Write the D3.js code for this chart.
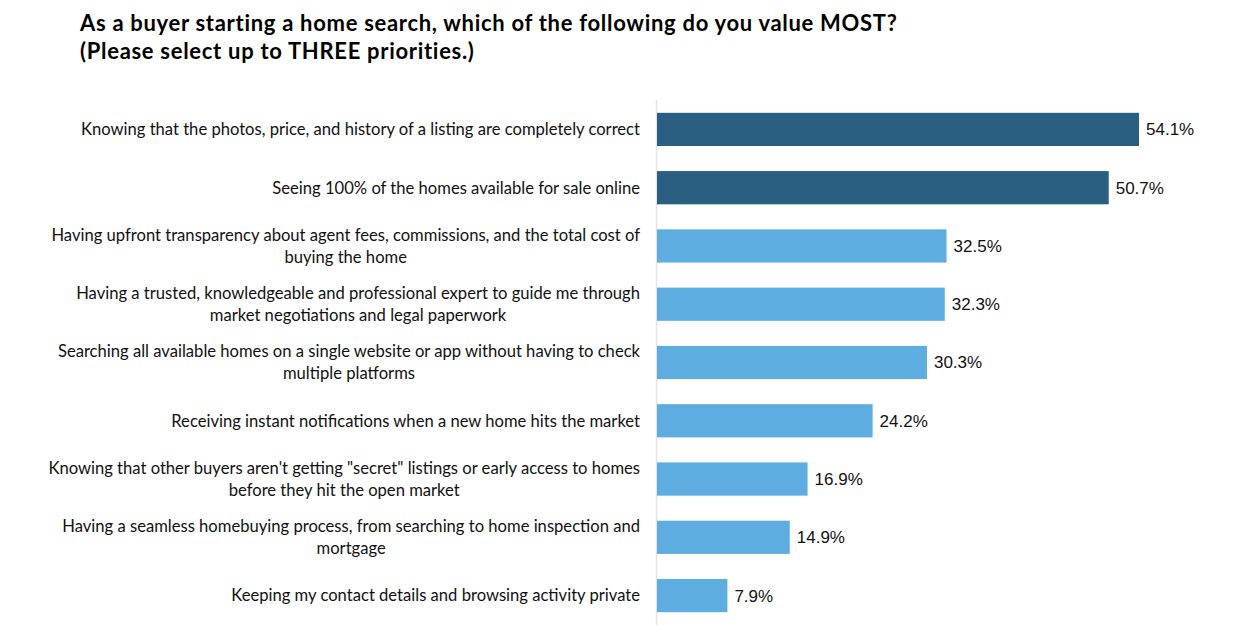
<!DOCTYPE html>
<html lang="en">
<head>
    <meta charset="UTF-8">
    <script src="https://d3js.org/d3.v7.min.js"></script>
    <title>Home search priorities</title>
    <style>
        body {
            margin: 0;
            background-color: #ffffff;
        }
        svg {
            display: block;
        }
        .title {
            font-family: Lato, "Liberation Sans", sans-serif;
            font-weight: bold;
            font-size: 22px;
            letter-spacing: 0.7px;
            fill: #000000;
        }
        .cat-label {
            font-family: Lato, "Liberation Sans", sans-serif;
            font-size: 16.6px;
            fill: #111111;
        }
        .value-label {
            font-family: "Liberation Sans", Arial, sans-serif;
            font-size: 17px;
            fill: #111111;
        }
    </style>
</head>
<body>

    <svg id="chart" width="1251" height="635"></svg>

    <script>
        // categories, each split into the lines shown in the picture
        const categories = [
            ["Knowing that the photos, price, and history of a listing are completely correct"],
            ["Seeing 100% of the homes available for sale online"],
            ["Having upfront transparency about agent fees, commissions, and the total cost of", "buying the home"],
            ["Having a trusted, knowledgeable and professional expert to guide me through", "market negotiations and legal paperwork"],
            ["Searching all available homes on a single website or app without having to check", "multiple platforms"],
            ["Receiving instant notifications when a new home hits the market"],
            ["Knowing that other buyers aren't getting \"secret\" listings or early access to homes", "before they hit the open market"],
            ["Having a seamless homebuying process, from searching to home inspection and", "mortgage"],
            ["Keeping my contact details and browsing activity private"]
        ];
        const values = [54.1, 50.7, 32.5, 32.3, 30.3, 24.2, 16.9, 14.9, 7.9];
        const highlighted = [true, true, false, false, false, false, false, false, false];
        const titleLines = [
            "As a buyer starting a home search, which of the following do you value MOST?",
            "(Please select up to THREE priorities.)"
        ];

        const darkBlue = "#2a5f82";
        const lightBlue = "#5dade0";

        const svg = d3.select("#chart");

        const axisX = 657;
        const labelRight = 640;
        const lineHeight = 22;

        const ids = categories.map((d, i) => i);

        const x = d3.scaleLinear()
            .domain([0, 54.1])
            .range([axisX, 1139]);

        const y = d3.scaleBand()
            .domain(ids)
            .range([100, 625])
            .paddingInner(0.43)
            .paddingOuter(0.22);

        // title
        svg.append("g")
            .selectAll("text")
            .data(titleLines)
            .join("text")
            .attr("class", "title")
            .attr("x", 80)
            .attr("y", (d, i) => 31 + i * 28)
            .text(d => d);

        // vertical axis line
        svg.append("line")
            .attr("x1", axisX - 0.5)
            .attr("x2", axisX - 0.5)
            .attr("y1", 100)
            .attr("y2", 625)
            .attr("stroke", "#e3e3e3")
            .attr("stroke-width", 1.5);

        // bars
        svg.append("g")
            .selectAll("rect")
            .data(values)
            .join("rect")
            .attr("x", x(0))
            .attr("y", (d, i) => y(i))
            .attr("width", d => x(d) - x(0))
            .attr("height", y.bandwidth())
            .attr("fill", (d, i) => highlighted[i] ? darkBlue : lightBlue);

        // value labels
        svg.append("g")
            .selectAll("text")
            .data(values)
            .join("text")
            .attr("class", "value-label")
            .attr("x", d => x(d) + 7)
            .attr("y", (d, i) => y(i) + y.bandwidth() / 2)
            .attr("dy", "0.35em")
            .text(d => d.toFixed(1) + "%");

        // category labels: block right aligned, lines centred inside it
        const labelGroups = svg.append("g")
            .selectAll("g")
            .data(categories)
            .join("g");

        labelGroups.each(function (lines, i) {
            const g = d3.select(this);
            const texts = g.selectAll("text")
                .data(lines)
                .join("text")
                .attr("class", "cat-label")
                .attr("text-anchor", "middle")
                .attr("y", (d, j) => y(i) + y.bandwidth() / 2 + (j - (lines.length - 1) / 2) * lineHeight)
                .attr("dy", "0.35em")
                .text(d => d);
            let maxW = 0;
            texts.each(function () {
                maxW = Math.max(maxW, this.getComputedTextLength());
            });
            texts.attr("x", labelRight - maxW / 2);
        });
    </script>

</body>
</html>
